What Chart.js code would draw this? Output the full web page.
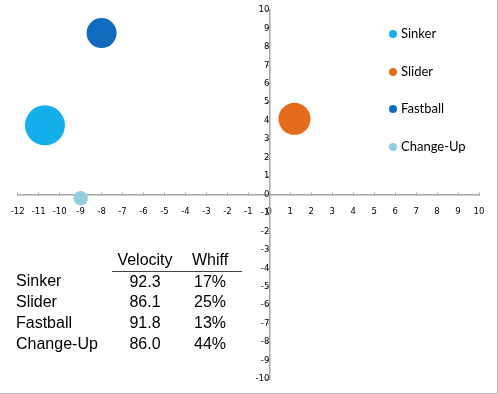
<!DOCTYPE html>
<html>
<head>
<meta charset="utf-8">
<script src="https://cdn.jsdelivr.net/npm/chart.js@4.4.0/dist/chart.umd.min.js"></script>
<style>
  html, body { margin: 0; padding: 0; background: #fff; }
  #wrap {
    position: relative; width: 498px; height: 394px; box-sizing: border-box;
    border-right: 1px solid #b4b4b4; border-bottom: 1px solid #b4b4b4;
  }
  #wrap canvas { position: absolute; left: 0; top: 0; }
  .leg { position: absolute; left: 389px; font: 13px Lato, sans-serif; color: #000; height: 16px; line-height: 16px; }
  .leg i { display: inline-block; width: 8px; height: 8px; border-radius: 50%; margin-right: 4px; vertical-align: -0px; }
  #tbl { position: absolute; left: 16px; top: 250px; font: 16px "Liberation Sans", Arial, sans-serif; color: #000; border-collapse: collapse; }
  #tbl td, #tbl th { padding: 0; height: 20.7px; line-height: 20.7px; font-weight: normal; }
  #tbl th { border-bottom: 1.5px solid #444; }
</style>
</head>
<body>
<div id="wrap">
  <canvas id="chart" width="497" height="393"></canvas>
</div>
<script>
// pitch movement chart (horizontal vs vertical break)
const pitches = ['Sinker', 'Slider', 'Fastball', 'Change-Up'];
const breakX = [-10.7, 1.2, -8.0, -9.0];
const breakY = [3.75, 4.1, 8.75, -0.2];
const bubbleRadius = [20, 16, 15, 7.2];
const velocity = ['92.3', '86.1', '91.8', '86.0'];
const whiff = ['17%', '25%', '13%', '44%'];
const colors = ['#12afeb', '#e46c1a', '#106abe', '#94cddd'];

const axisColor = '#a6a6a6';
const tickFont = { family: 'DejaVu Sans', size: 8.5 };

// axes sit in the middle, so drop the label overhang padding
function noPad(scale) {
  scale.paddingLeft = 0;
  scale.paddingRight = 0;
  scale.paddingTop = 0;
  scale.paddingBottom = 0;
}

const datasets = pitches.map(function(name, i) {
  return {
    label: name,
    data: [{ x: breakX[i], y: breakY[i], r: bubbleRadius[i] }],
    backgroundColor: colors[i],
    borderWidth: 0,
    hoverRadius: 0,
    clip: false
  };
});

new Chart(document.getElementById('chart'), {
  type: 'bubble',
  data: { datasets: datasets },
  options: {
    responsive: false,
    animation: false,
    layout: { autoPadding: false, padding: { left: 17.7, right: 18, top: 10, bottom: 14 } },
    plugins: { legend: { display: false }, tooltip: { enabled: false } },
    scales: {
      x: {
        type: 'linear',
        position: { y: 0 },
        min: -12, max: 10,
        afterFit: noPad,
        grid: { drawOnChartArea: false, drawTicks: true, tickLength: -3, color: axisColor },
        border: { color: axisColor, width: 1.5 },
        ticks: { stepSize: 1, autoSkip: false, maxRotation: 0, color: '#000', font: tickFont, padding: 15 }
      },
      y: {
        type: 'linear',
        position: { x: 0 },
        min: -10, max: 10,
        afterFit: noPad,
        grid: { drawOnChartArea: false, drawTicks: true, tickLength: 3, color: axisColor },
        border: { color: axisColor, width: 1.5 },
        ticks: { stepSize: 1, autoSkip: false, color: '#000', font: tickFont, padding: 3 }
      }
    }
  }
});

// legend down the right side
const wrap = document.getElementById('wrap');
pitches.forEach(function(name, i) {
  const d = document.createElement('div');
  d.className = 'leg';
  d.style.top = (25 + i * 37.7) + 'px';
  d.innerHTML = '<i style="background:' + colors[i] + '"></i>' + name;
  wrap.appendChild(d);
});

// velocity / whiff table
let html = '<tr><td style="width:96px"></td><th style="width:66px;text-align:center">Velocity</th>' +
  '<th style="width:64px;text-align:center">Whiff</th></tr>';
pitches.forEach(function(name, i) {
  html += '<tr><td>' + name + '</td><td style="text-align:center">' + velocity[i] +
    '</td><td style="text-align:center">' + whiff[i] + '</td></tr>';
});
const tbl = document.createElement('table');
tbl.id = 'tbl';
tbl.innerHTML = html;
wrap.appendChild(tbl);
</script>
</body>
</html>
